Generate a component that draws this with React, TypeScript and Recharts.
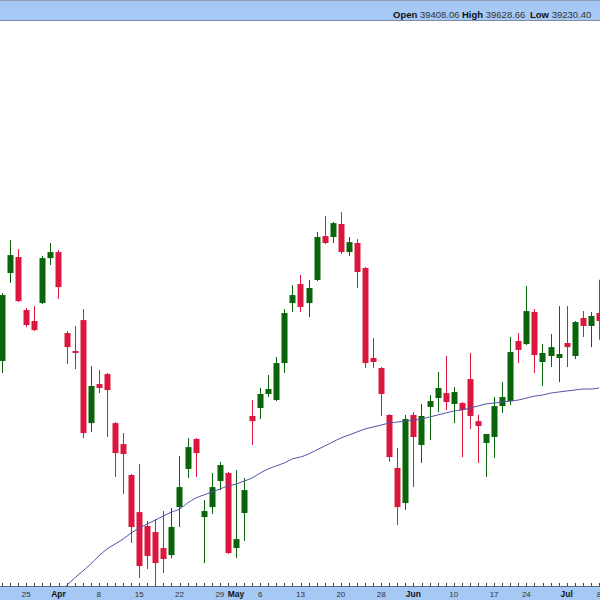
import React from 'react';
import { ComposedChart, Bar, Line, XAxis, YAxis } from 'recharts';

const dates = [
  '03-20','03-21','03-22','03-25','03-26','03-27','03-28',
  '04-01','04-02','04-03','04-04','04-05',
  '04-08','04-09','04-10','04-11','04-12',
  '04-15','04-16','04-17','04-18','04-19',
  '04-22','04-23','04-24','04-25','04-26',
  '04-29','04-30','05-01','05-02','05-03',
  '05-06','05-07','05-08','05-09','05-10',
  '05-13','05-14','05-15','05-16','05-17',
  '05-20','05-21','05-22','05-23','05-24',
  '05-28','05-29','05-30','05-31',
  '06-03','06-04','06-05','06-06','06-07',
  '06-10','06-11','06-12','06-13','06-14',
  '06-17','06-18','06-20','06-21',
  '06-24','06-25','06-26','06-27','06-28',
  '07-01','07-02','07-03','07-05',
  '07-08',
];

const opens = [
  39090,39673,39779,39428,39355,39474,39772,39812,39275,39156,
  39361,38678,38937,39003,38678,38539,38334,38088,37996,37956,
  37850,37803,38121,38374,38573,38055,38121,38294,38347,37850,
  38082,38725,38778,38871,38831,39076,39474,39600,39474,39627,
  39918,39912,39998,39812,39872,39706,39110,39043,38732,38381,
  38148,38732,38533,38785,38844,38877,38805,38811,38970,38691,
  38546,38586,38791,38824,39222,39202,39415,39083,39123,39110,
  39209,39123,39375,39322,39408.06,
];

const highs = [
  39540,39892,39832,39441,39454,39786,39872,39826,39288,39322,
  39434,39056,39030,39010,38685,38612,38340,38407,38029,38042,
  38095,38115,38460,38579,38579,38168,38347,38421,38354,38367,
  38314,38831,38911,38997,39116,39434,39593,39660,39627,39945,
  40051,40011,40077,39912,39898,39713,39242,39050,38738,38513,
  38732,38751,38805,38864,39017,39123,38917,38818,39143,38732,
  38606,38851,38950,39249,39275,39587,39434,39202,39269,39454,
  39454,39355,39421,39415,39628.66,
];

const lows = [
  39010,39607,39481,39315,39288,39468,39726,39501,39070,39036,
  38579,38619,38877,38586,38321,38208,37883,37651,37711,37605,
  37684,37783,37989,38314,38321,37750,38075,38234,37810,37783,
  37896,38533,38705,38851,38824,39010,39415,39415,39381,39620,
  39865,39872,39799,39786,39574,39043,39043,38725,38421,38002,
  38102,38254,38414,38566,38751,38765,38678,38453,38639,38414,
  38321,38447,38745,38798,39076,39196,39010,38924,39050,38950,
  39050,39103,39249,39182,39230.4,
];

const closes = [
  39527,39792,39487,39328,39295,39772,39812,39580,39182,39143,
  38612,38924,38911,38897,38479,38473,37989,37730,37797,37750,
  37777,37989,38254,38519,38479,38095,38254,38400,37817,37909,
  38234,38691,38871,38904,39076,39408,39527,39448,39574,39912,
  39872,40004,39812,39878,39680,39076,39083,38871,38453,38121,
  38705,38586,38725,38824,38911,38818,38884,38765,38725,38659,
  38606,38791,38851,39149,39163,39421,39129,39143,39182,39136,
  39182,39348,39322,39388,39355,
];

// moving average, visible from Apr 1 onward
const maStartIndex = 7;
const maValues = [
  37551,37601,37651,37697,37744,37797,37843,37876,37909,37949,
  37982,38009,38035,38062,38088,38108,38148,38181,38201,38221,
  38241,38261,38274,38294,38314,38347,38374,38394,38414,38441,
  38453,38473,38500,38526,38553,38579,38599,38619,38639,38652,
  38665,38678,38685,38691,38698,38705,38718,38732,38745,38758,
  38765,38778,38791,38805,38811,38818,38824,38831,38844,38857,
  38864,38877,38884,38891,38897,38904,38904,38911,
];

const tickDates = ['03-25','04-01','04-08','04-15','04-22','04-29','05-01','05-06','05-13','05-20','05-28','06-03','06-10','06-17','06-24','07-01','07-08'];
const tickTexts = ['25','Apr','8','15','22','29','May','6','13','20','28','Jun','10','17','24','Jul','8'];
const monthTexts = ['Apr','May','Jun','Jul'];

const headerItems = [
  { label: 'Open', value: '39408.06' },
  { label: 'High', value: '39628.66' },
  { label: 'Low', value: '39230.40' },
];
const headerLefts = [393, 462, 530];

const yDomain = [37598, 41344];

const data = dates.map((d, i) => ({
  d,
  o: opens[i],
  h: highs[i],
  l: lows[i],
  c: closes[i],
  range: [lows[i], highs[i]],
  ma: i < maStartIndex ? null : maValues[i - maStartIndex],
}));

const GREEN = '#0a650a';
const RED = '#d9173f';
const BAND = '#a6c8f5';
const CHART_W = 605;
const CHART_H = 600;
const TOP = 21;
const XAXIS_H = 14;
const PLOT_BOTTOM = CHART_H - XAXIS_H;
const FONT = '"Liberation Sans", Arial, sans-serif';

const Candle = (props: any) => {
  const { x, y, width, height, payload } = props;
  if (!payload || x == null) return null;
  const { o, h, l, c } = payload;
  const top = Math.min(y, y + height);
  const hgt = Math.abs(height);
  const cx = Math.round(x + width / 2) + 0.5;
  const toPx = (p: number) => (h === l ? top : top + ((h - p) / (h - l)) * hgt);
  const up = c >= o;
  const color = up ? GREEN : RED;
  const bTop = toPx(Math.max(o, c));
  const bBot = toPx(Math.min(o, c));
  return (
    <g>
      <line x1={cx} x2={cx} y1={top} y2={top + hgt} stroke={color} strokeWidth={1} />
      <rect x={cx - 3} y={bTop} width={6} height={Math.max(bBot - bTop, 1.5)} fill={color} />
    </g>
  );
};

const DayTick = (props: any) => {
  const { x, payload } = props;
  const idx = tickDates.indexOf(payload.value);
  const txt = idx >= 0 ? tickTexts[idx] : null;
  const bold = txt != null && monthTexts.includes(txt);
  return (
    <g>
      <line x1={Math.round(x) + 0.5} x2={Math.round(x) + 0.5} y1={PLOT_BOTTOM - 3} y2={PLOT_BOTTOM} stroke="#444" strokeWidth={1} />
      {txt != null && (
        <text
          x={x}
          y={PLOT_BOTTOM + 11}
          textAnchor="middle"
          fontSize={bold ? 8.5 : 8}
          fontWeight={bold ? 700 : 400}
          fill={bold ? '#111' : '#333'}
          fontFamily={FONT}
        >
          {txt}
        </text>
      )}
    </g>
  );
};

export default function App() {
  return (
    <div style={{ position: 'absolute', left: 0, top: 0, width: 600, height: 600, overflow: 'hidden', background: '#fff' }}>
      {/* top band */}
      <div
        style={{
          position: 'absolute', left: 0, top: 0, width: 600, height: 19,
          background: BAND, borderTop: '1px solid #8d9bb0', borderBottom: '1px solid #7e8ca3',
        }}
      />
      {headerItems.map((it, i) => (
        <div
          key={it.label}
          style={{
            position: 'absolute', left: headerLefts[i], top: 9, whiteSpace: 'nowrap',
            fontFamily: FONT, fontSize: 9.5, color: '#111', lineHeight: '11px',
          }}
        >
          <b>{it.label}</b> <span style={{ color: '#333' }}>{it.value}</span>
        </div>
      ))}
      {/* bottom band */}
      <div
        style={{
          position: 'absolute', left: 0, top: PLOT_BOTTOM, width: 600, height: CHART_H - PLOT_BOTTOM,
          background: BAND, borderTop: '1px solid #5a6a80', boxSizing: 'border-box',
        }}
      />
      <div style={{ position: 'absolute', left: -2, top: 0 }}>
        <ComposedChart
          width={CHART_W}
          height={CHART_H}
          data={data}
          margin={{ top: TOP, right: 0, left: 0, bottom: 0 }}
          barCategoryGap={0}
        >
          <XAxis
            dataKey="d"
            interval={0}
            height={XAXIS_H}
            tickLine={false}
            axisLine={false}
            tick={<DayTick />}
          />
          <YAxis hide domain={yDomain} allowDataOverflow type="number" />
          <Bar dataKey="range" shape={<Candle />} isAnimationActive={false} />
          <Line
            dataKey="ma"
            type="monotone"
            stroke="#5050a8"
            strokeWidth={1}
            dot={false}
            activeDot={false}
            connectNulls={false}
            isAnimationActive={false}
          />
        </ComposedChart>
      </div>
    </div>
  );
}
